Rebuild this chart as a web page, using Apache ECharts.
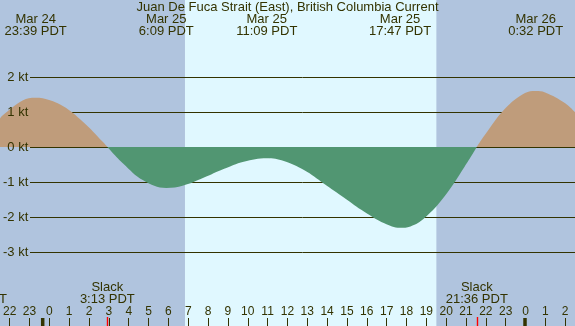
<!DOCTYPE html>
<html><head><meta charset="utf-8">
<script src="https://cdn.jsdelivr.net/npm/echarts@6/dist/echarts.min.js"></script>
<style>html,body{margin:0;padding:0;background:#b0c4de}#c{width:575px;height:326px}</style>
</head><body><div id="c"></div>
<script>
// ---- data (hours relative to Mar 25 00:00 PDT) ----
const titleText = 'Juan De Fuca Strait (East), British Columbia Current';
const times  = [-2.13, -2, -1, -0.35, 0, 1, 2, 3, 3.22, 4, 5, 6.15, 7, 8, 9, 10, 11.15, 12, 13, 14, 15, 16, 17, 17.78, 18.3, 19, 20, 21, 21.6, 22, 23, 24, 24.53, 25, 26, 26.49];
const speeds = [0.81, 0.90, 1.33, 1.41, 1.39, 1.17, 0.72, 0.14, 0, -0.47, -0.95, -1.17, -1.10, -0.88, -0.63, -0.42, -0.32, -0.40, -0.66, -1.05, -1.45, -1.85, -2.18, -2.31, -2.27, -2.03, -1.41, -0.56, 0, 0.34, 1.09, 1.54, 1.60, 1.56, 1.25, 0.99];
const hourMin = -2, hourMax = 26;
const viewMin = -2.1244, viewMax = 26.4877;   // time at left / right edge of the picture
const midnights = [0, 24];
const sunrise = 7.08, sunset = 19.59;
const eventTimes  = [-0.35, 6.15, 11.15, 17.7833, 24.5333];
const eventDates  = ['Mar 24', 'Mar 25', 'Mar 25', 'Mar 25', 'Mar 26'];
const eventLabels = ['23:39 PDT', '6:09 PDT', '11:09 PDT', '17:47 PDT', '0:32 PDT'];
const slackTimes  = [-3.32, 3.2167, 21.6];
const slackLabels = ['20:41 PDT', '3:13 PDT', '21:36 PDT'];

// ---- styles ----
const FF = '"Liberation Sans", Arial, sans-serif';
const fg = '#333300';
const night = '#b0c4de', day = '#e0f8ff';
const flood = '#bf9c7b', ebb = '#519672';

// split the curve at slack (zero) points into flood / ebb segments
const segments = [];
let cur = [];
times.forEach((t, i) => {
  cur.push([t, speeds[i]]);
  if (speeds[i] === 0 && cur.length > 1) { segments.push(cur); cur = [[t, 0]]; }
});
if (cur.length > 1) segments.push(cur);

const chart = echarts.init(document.getElementById('c'));
const plotGrid = {left: 0, right: 0, top: 0, bottom: 0};
const hourGrid = {left: 2.5, right: 9.8, top: 0, bottom: 0};
const ktGrid = {left: 30, right: 0, top: 77, bottom: 74};
const hidden = {show: false};

const curveSeries = segments.map(seg => {
  const positive = seg.some(p => p[1] > 0);
  const c = positive ? flood : ebb;
  return {type: 'line', xAxisIndex: 0, yAxisIndex: 0, z: 4, silent: true,
    smooth: 0.4, symbol: 'none', showSymbol: false, lineStyle: {width: 0, color: c},
    itemStyle: {color: c}, areaStyle: {opacity: 1, origin: 0, color: c}, data: seg};
});

chart.setOption({
  backgroundColor: night,
  animation: false,
  grid: [plotGrid, ktGrid, ktGrid, hourGrid],
  xAxis: [
    {gridIndex: 0, type: 'value', min: viewMin, max: viewMax, show: false},
    {gridIndex: 1, type: 'value', min: 0, max: 1, show: false},
    {gridIndex: 2, type: 'value', min: 0, max: 1, show: false},
    {gridIndex: 3, type: 'value', min: hourMin, max: hourMax, interval: 1, position: 'bottom', z: 5,
      axisLine: hidden, splitLine: hidden,
      axisTick: {inside: true, length: 8, lineStyle: {color: fg, width: 1}},
      axisLabel: {inside: true, margin: 8, color: fg, fontFamily: FF, fontSize: 12,
        showMinLabel: true, showMaxLabel: true,
        formatter: v => String(((v % 24) + 24) % 24)}}
  ],
  yAxis: [
    {gridIndex: 0, type: 'value', min: -5.114, max: 4.2, show: false},
    {gridIndex: 1, type: 'value', min: -3, max: 2, interval: 1, z: 3,
      axisLine: hidden, axisTick: hidden, axisLabel: hidden,
      splitLine: {show: true, lineStyle: {color: fg, width: 1}}},
    {gridIndex: 2, type: 'value', min: -3, max: 2, interval: 1, z: 8,
      axisLine: hidden, axisTick: hidden, splitLine: hidden,
      axisLabel: {show: true, margin: 2, align: 'right', color: fg, fontFamily: FF, fontSize: 13,
        formatter: v => v + ' kt'}},
    {gridIndex: 3, type: 'value', show: false}
  ],
  series: [
    {type: 'line', xAxisIndex: 0, yAxisIndex: 0, z: 0, silent: true,
      data: [[sunrise, 0], [sunset, 0]], symbol: 'none', showSymbol: false, lineStyle: {width: 0, opacity: 0},
      markArea: {silent: true, itemStyle: {color: day}, data: [[{xAxis: sunrise}, {xAxis: sunset}]]}}
  ].concat(curveSeries)
});

const px = t => chart.convertToPixel({xAxisIndex: 0}, t);
const txt = (x, y, s) => ({type: 'text', x: x, y: y, z: 20, silent: true,
  style: {text: s, font: '13px ' + FF, fill: fg, align: 'center', verticalAlign: 'middle'}});
const tick = (x, w, h, color) => ({type: 'rect', z: 21, silent: true,
  shape: {x: x - w / 2, y: 326 - h, width: w, height: h}, style: {fill: color}});
const els = [txt(287.5, 7.5, titleText)];
eventTimes.forEach((t, i) => {
  els.push(txt(px(t), 19.5, eventDates[i]));
  els.push(txt(px(t), 31.5, eventLabels[i]));
});
slackTimes.forEach((t, i) => {
  els.push(txt(px(t), 287.5, 'Slack'));
  els.push(txt(px(t), 299.5, slackLabels[i]));
  els.push(tick(Math.round(px(t)) + 0.5, 1.4, 9, '#ff0000'));
});
midnights.forEach(t => els.push(tick(px(t), 3.5, 8, fg)));
chart.setOption({graphic: {elements: els}});
</script></body></html>
